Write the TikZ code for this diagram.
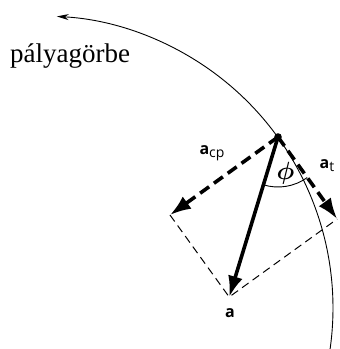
\documentclass[tikz,border=0pt]{standalone}
\usepackage{amsmath}
\usepackage{fontspec}
\setmainfont{Liberation Serif}
\newfontfamily\labfont{Open Sans}
\usetikzlibrary{arrows.meta,calc}
\tikzset{
  thin line/.style={line width=0.9pt},
  heavy/.style={line width=3.6pt, -{Latex[length=21pt,width=15pt]}},
  heavydash/.style={heavy, dash pattern=on 11pt off 6pt},
  lightdash/.style={line width=1pt, dash pattern=on 8pt off 5pt},
  veclabel/.style={font=\labfont\fontsize{16}{18}\selectfont\bfseries, inner sep=0pt}
}
\begin{document}
\begin{tikzpicture}[x=1pt,y=1pt]
\useasboundingbox (0,0) rectangle (340,349);
\coordinate (O) at (41,41);
\coordinate (P) at (278,212);
\coordinate (C) at ($(P)+(-108,-78)$);
\coordinate (T) at ($(P)+(59.2,-82)$);
\coordinate (A) at ($(C)+(T)-(P)$);
% trajectory
\draw[thin line, -{Stealth[length=12pt,width=6pt]}] (O) ++(-8.1:292) arc[start angle=-8.1, end angle=86.9, radius=292];
% parallelogram
\draw[lightdash] (C) -- (A) -- (T);
% angle
\draw[thin line] ($(P)+(-107:50)$) arc[start angle=-107, end angle=-54.2, radius=50];
% vectors
\draw[heavydash] (P) -- (C);
\draw[heavydash] (P) -- (T);
\draw[heavy] (P) -- (A);
\fill (P) circle (3.8);
% labels
\node[anchor=base west, inner sep=0pt, font=\fontsize{27}{30}\selectfont] (lab) at (10,286) {pályagörbe};
\node[veclabel] (lcp) at (212,196) {a\textmd{\fontsize{14}{16}\selectfont\raisebox{-3pt}{cp}}};
\node[veclabel] (lt) at (327,183) {a\textmd{\fontsize{14}{16}\selectfont\raisebox{-3pt}{t}}};
\node[inner sep=0pt, font=\fontsize{24}{28}\selectfont] (lphi) at (285.5,175.5) {$\boldsymbol{\phi}$};
\node[veclabel] (la) at (230,36) {a};
\end{tikzpicture}
\end{document}
